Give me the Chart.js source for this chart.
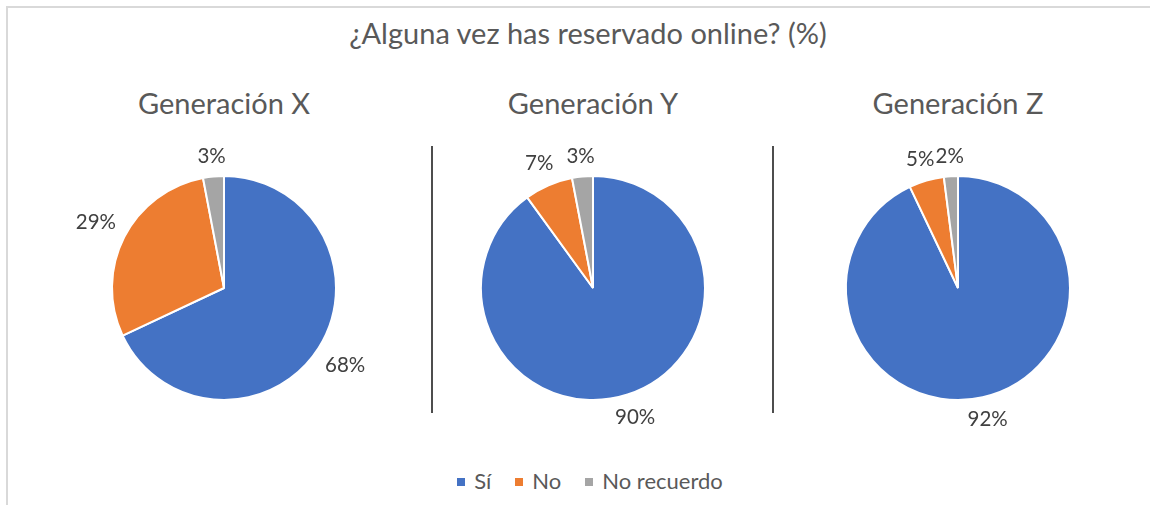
<!DOCTYPE html>
<html>
<head>
<meta charset="utf-8">
<script src="https://cdn.jsdelivr.net/npm/chart.js@4"></script>
<style>
body { margin: 0; background: #fff; font-family: Lato, sans-serif; color: #595959; }
#wrap { position: relative; width: 1150px; height: 505px; overflow: hidden; }
#frame { position: absolute; left: 6px; top: 6px; width: 1170px; height: 530px; border: 2px solid #d9d9d9; }
#title { position: absolute; left: 0; top: 15px; width: 1176px; text-align: center; font-size: 29px; line-height: 36px; }
.sub { position: absolute; top: 85px; width: 300px; text-align: center; font-size: 29px; line-height: 36px; }
.sep { position: absolute; top: 146px; width: 2px; height: 267px; background: #4d4d4d; }
canvas { position: absolute; top: 118px; }
#legend { position: absolute; left: 0; top: 467px; width: 1180px; text-align: center; font-size: 22px; line-height: 28px; }
#legend span { margin: 0 12px; }
#legend i { display: inline-block; width: 8px; height: 8px; margin-right: 9px; vertical-align: 3px; }
</style>
</head>
<body>
<div id="wrap">
  <div id="frame"></div>
  <div id="title">¿Alguna vez has reservado online? (%)</div>
  <div class="sep" style="left:431px"></div>
  <div class="sep" style="left:772px"></div>
  <div id="legend"></div>
</div>
<script>
// categorias y valores (%)
const categories = ['Sí', 'No', 'No recuerdo'];
const generations = ['Generación X', 'Generación Y', 'Generación Z'];
const genX = [68, 29, 3];
const genY = [90, 7, 3];
const genZ = [92, 5, 2];
const colors = ['#4472C4', '#ED7D31', '#A5A5A5'];

const series = [genX, genY, genZ];
const centers = [224, 593, 958];

// etiquetas fuera del pastel
const outsideLabels = {
  id: 'outsideLabels',
  afterDatasetsDraw(chart) {
    const ctx = chart.ctx;
    const meta = chart.getDatasetMeta(0);
    const data = chart.data.datasets[0].data;
    ctx.save();
    ctx.font = '20.5px Lato';
    ctx.fillStyle = '#404040';
    ctx.textAlign = 'center';
    ctx.textBaseline = 'middle';
    meta.data.forEach((arc, i) => {
      const p = arc.getProps(['x', 'y', 'startAngle', 'endAngle', 'outerRadius']);
      const mid = (p.startAngle + p.endAngle) / 2;
      const txt = data[i] + '%';
      const w = ctx.measureText(txt).width;
      const h = 17;
      const dx = Math.cos(mid), dy = Math.sin(mid);
      const d = p.outerRadius + 10 + w / 2 * Math.abs(dx) + h / 2 * Math.abs(dy);
      ctx.fillText(txt, p.x + dx * d, p.y + dy * d);
    });
    ctx.restore();
  }
};

const wrap = document.getElementById('wrap');

for (var i = 0; i < 3; i++) {
  var sub = document.createElement('div');
  sub.className = 'sub';
  sub.style.left = (centers[i] - 150) + 'px';
  sub.textContent = generations[i];
  wrap.appendChild(sub);

  var cv = document.createElement('canvas');
  cv.width = 340;
  cv.height = 340;
  cv.style.left = (centers[i] - 170) + 'px';
  wrap.appendChild(cv);

  new Chart(cv.getContext('2d'), {
    type: 'pie',
    data: {
      labels: categories,
      datasets: [{
        data: series[i],
        backgroundColor: colors,
        borderColor: '#ffffff',
        borderWidth: 2
      }]
    },
    options: {
      responsive: false,
      animation: false,
      radius: 112,
      plugins: {
        legend: { display: false },
        tooltip: { enabled: false }
      }
    },
    plugins: [outsideLabels]
  });
}

var leg = '';
for (var j = 0; j < categories.length; j++)
  leg += '<span><i style="background:' + colors[j] + '"></i>' + categories[j] + '</span>';
document.getElementById('legend').innerHTML = leg;
</script>
</body>
</html>
